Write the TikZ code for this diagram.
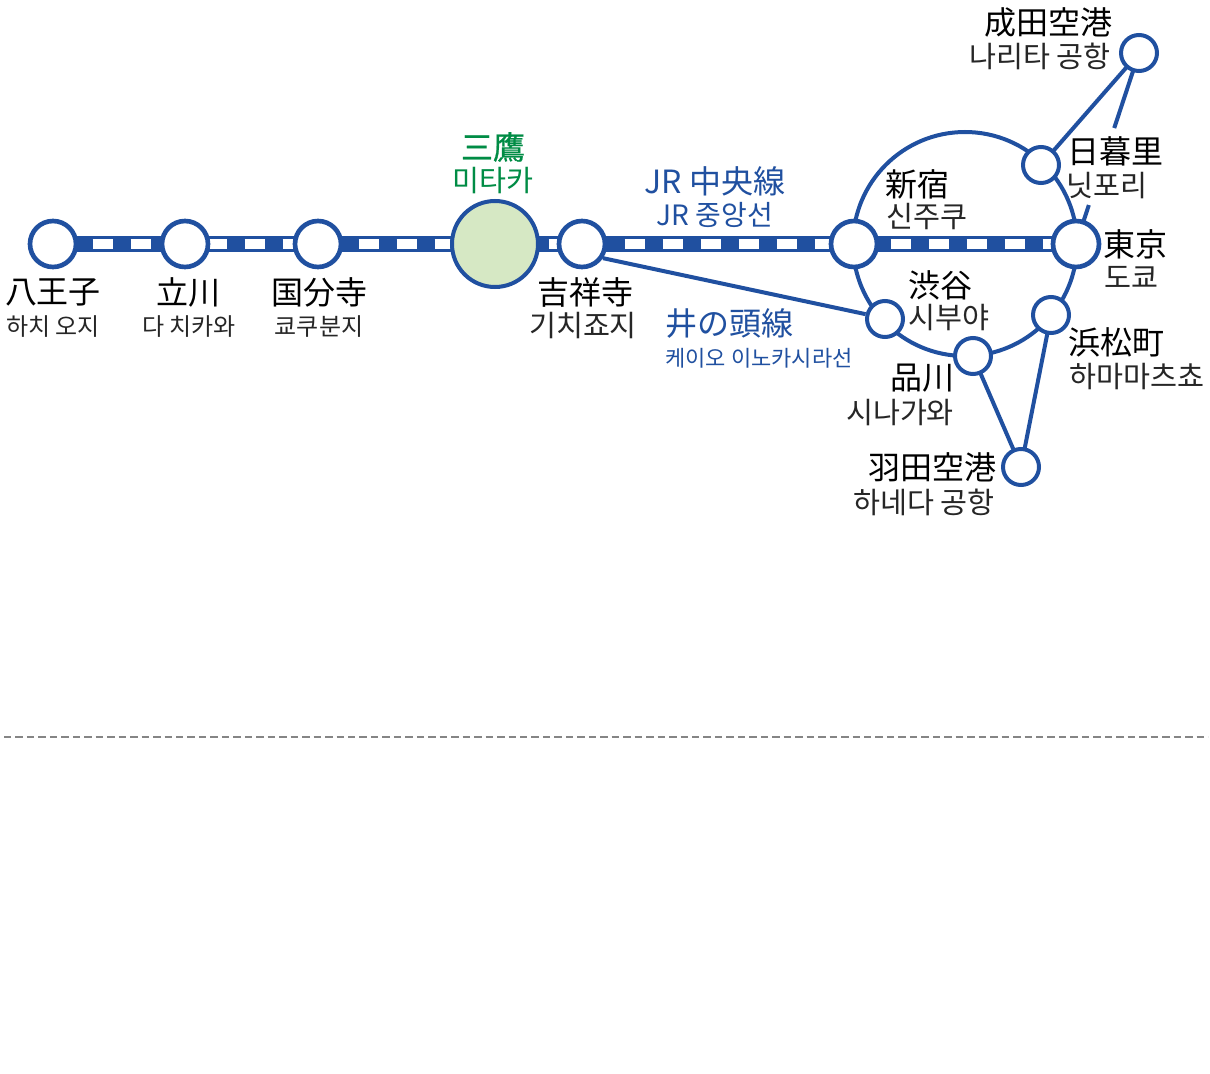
\documentclass[tikz,border=0pt]{standalone}
\usepackage{fontspec}
\usetikzlibrary{backgrounds,calc}
\newfontfamily\jpf{Noto Sans CJK JP}
\newfontfamily\jpfb[FakeBold=0.7]{Noto Sans CJK JP}
\newfontfamily\krf{Noto Sans CJK KR}
\definecolor{lineblue}{HTML}{2050A0}
\definecolor{stgreen}{HTML}{008C45}
\definecolor{mitakafill}{HTML}{D6E8C4}
\tikzset{
  stmain/.style={circle,draw=lineblue,fill=white,line width=3.5pt,minimum size=34.5pt,inner sep=0pt},
  stsmall/.style={circle,draw=lineblue,fill=white,line width=3pt,minimum size=27pt,inner sep=0pt},
  sthub/.style={circle,draw=lineblue,fill=mitakafill,line width=3pt,minimum size=64.5pt,inner sep=0pt},
  ringline/.style={circle,draw=lineblue,line width=3pt,minimum size=168pt,inner sep=0pt},
  thin connector/.style={draw=lineblue,line width=3pt},
  trackband/.style={draw=lineblue,line width=12pt},
  trackdash/.style={draw=white,line width=7.5pt,dash pattern=on 15pt off 13.5pt,dash phase=27.375pt},
  sep line/.style={draw=black!48,line width=1.5pt,dash pattern=on 5.6pt off 3pt},
  jlabel/.style={inner sep=0pt,font=\jpf\fontsize{24}{28}\selectfont,text=black},
  klabel/.style={inner sep=0pt,font=\krf\fontsize{22}{26}\selectfont,text=black!85},
  ksmall/.style={klabel,font=\krf\fontsize{18}{22}\selectfont},
  kmini/.style={klabel,font=\krf\fontsize{16.5}{20}\selectfont},
  bluej/.style={jlabel,text=lineblue},
  bluek/.style={klabel,text=lineblue},
}
\begin{document}
\begin{tikzpicture}[x=0.75pt,y=-0.75pt]
\useasboundingbox (0,0) rectangle (1210,1074);
% labels
\node[jlabel] (lHachioji) at (53,292) {八王子};
\node[ksmall] (kHachioji) at (53,327) {하치 오지};
\node[jlabel] (lTachikawa) at (188,292) {立川};
\node[ksmall] (kTachikawa) at (189,327) {다 치카와};
\node[jlabel] (lKokubunji) at (319,292) {国分寺};
\node[ksmall] (kKokubunji) at (319,327) {쿄쿠분지};
\node[jlabel,text=stgreen,font=\jpfb\fontsize{24}{28}\selectfont] (lMitaka) at (493,147) {三鷹};
\node[klabel,text=stgreen] (kMitaka) at (493,181) {미타카};
\node[jlabel] (lKichijoji) at (585,292) {吉祥寺};
\node[klabel] (kKichijoji) at (583,326) {기치죠지};
\node[bluej] (lChuo) at (715,181) {JR 中央線};
\node[bluek,font=\krf\fontsize{21}{25}\selectfont] (kChuo) at (715,215) {JR 중앙선};
\node[bluej] (lInokashira) at (729,323) {井の頭線};
\node[kmini,text=lineblue] (kInokashira) at (759,358) {케이오 이노카시라선};
\node[jlabel] (lNarita) at (1048,22) {成田空港};
\node[klabel] (kNarita) at (1040,56) {나리타 공항};
\node[jlabel] (lNippori) at (1115,151) {日暮里};
\node[klabel] (kNippori) at (1107,186) {닛포리};
\node[jlabel] (lShinjuku) at (917,184) {新宿};
\node[klabel] (kShinjuku) at (927,217) {신주쿠};
\node[jlabel] (lTokyo) at (1135,244) {東京};
\node[klabel] (kTokyo) at (1131,277) {도쿄};
\node[jlabel] (lShibuya) at (940,285) {渋谷};
\node[klabel] (kShibuya) at (949,318) {시부야};
\node[jlabel] (lHamamatsucho) at (1116,342) {浜松町};
\node[klabel] (kHamamatsucho) at (1137,377) {하마마츠쵸};
\node[jlabel] (lShinagawa) at (922,378) {品川};
\node[klabel] (kShinagawa) at (900,413) {시나가와};
\node[jlabel] (lHaneda) at (932,467) {羽田空港};
\node[klabel] (kHaneda) at (924,502) {하네다 공항};
% ring
\node[ringline] (ring) at (965,244) {};
% stations
\node[stmain] (hachioji) at (53,244) {};
\node[stmain] (tachikawa) at (185,244) {};
\node[stmain] (kokubunji) at (318,244) {};
\node[sthub] (mitaka) at (495,244) {};
\node[stmain] (kichijoji) at (582,244) {};
\node[stmain] (shinjuku) at (854,244) {};
\node[stmain] (tokyo) at (1076,244) {};
\node[stsmall] (narita) at (1139,53) {};
\node[stsmall] (nippori) at (1041,165) {};
\node[stsmall] (hamamatsucho) at (1051,315) {};
\node[stsmall] (shinagawa) at (973,356) {};
\node[stsmall] (shibuya) at (885,319) {};
\node[stsmall] (haneda) at (1021,467) {};
\coordinate (sepL) at (4,737);
\coordinate (sepR) at (1208,737);
\coordinate (gapTop) at ($(narita.center)!0.393!(tokyo.center)$);
\coordinate (gapBot) at ($(narita.center)!0.796!(tokyo.center)$);
\begin{pgfonlayer}{background}
\fill[white] (0,0) rectangle (1210,1074);
\path[trackband] (hachioji.center) -- (tokyo.center);
\path[trackdash] (hachioji.center) -- (tokyo.center);
\path[thin connector] (kichijoji.-34) -- (shibuya.166);
\path[thin connector] (narita.center) -- (nippori.center);
\path[thin connector] (narita.center) -- (gapTop);
\path[thin connector] (gapBot) -- (tokyo.center);
\path[thin connector] (shinagawa.center) -- (haneda.center);
\path[thin connector] (hamamatsucho.center) -- (haneda.center);
\path[sep line] (sepL) -- (sepR);
\end{pgfonlayer}
\end{tikzpicture}
\end{document}
